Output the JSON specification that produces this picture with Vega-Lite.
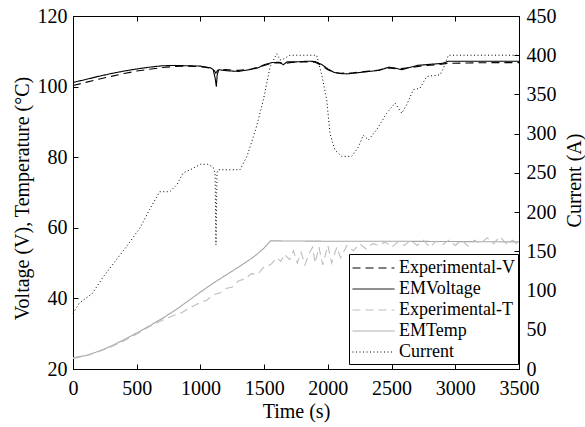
{
  "$schema": "https://vega.github.io/schema/vega-lite/v6.json",
  "width": 446,
  "height": 353,
  "autosize": {"type": "none"},
  "padding": {"left": 73, "top": 16, "right": 66, "bottom": 58},
  "background": "white",
  "config": {
    "font": "Liberation Serif",
    "view": {"stroke": "black", "strokeWidth": 1},
    "axis": {"labelFont": "Liberation Serif", "titleFont": "Liberation Serif", "labelFontSize": 20, "titleFontSize": 20, "titleFontWeight": "normal", "labelColor": "black", "titleColor": "black", "domain": false, "tickColor": "black", "tickSize": -5, "grid": false, "labelPadding": 11, "labelFlush": false, "format": "d"},
    "legend": {"orient": "none", "legendX": 276, "legendY": 238, "title": null, "symbolType": "M-1,0H3", "symbolSize": 441, "symbolStrokeWidth": 1, "labelFont": "Liberation Serif", "labelFontSize": 18, "labelColor": "black", "labelOffset": 25, "fillColor": "white", "strokeColor": "black", "padding": 3, "rowPadding": 1, "labelLimit": 300}
  },
  "datasets": {
    "d": [
      {"s": "EMVoltage", "t": 0, "v": 101.2}, {"s": "EMVoltage", "t": 100, "v": 102.0}, {"s": "EMVoltage", "t": 200, "v": 102.9}, {"s": "EMVoltage", "t": 300, "v": 103.7}, {"s": "EMVoltage", "t": 400, "v": 104.4}, {"s": "EMVoltage", "t": 500, "v": 105.0}, {"s": "EMVoltage", "t": 600, "v": 105.5}, {"s": "EMVoltage", "t": 700, "v": 105.9}, {"s": "EMVoltage", "t": 800, "v": 106.0}, {"s": "EMVoltage", "t": 900, "v": 105.9}, {"s": "EMVoltage", "t": 1000, "v": 105.8}, {"s": "EMVoltage", "t": 1080, "v": 105.3}, {"s": "EMVoltage", "t": 1100, "v": 104.8}, {"s": "EMVoltage", "t": 1115, "v": 102.5}, {"s": "EMVoltage", "t": 1125, "v": 100.0}, {"s": "EMVoltage", "t": 1132, "v": 103.5}, {"s": "EMVoltage", "t": 1145, "v": 104.8}, {"s": "EMVoltage", "t": 1200, "v": 104.5}, {"s": "EMVoltage", "t": 1300, "v": 104.3}, {"s": "EMVoltage", "t": 1400, "v": 104.9}, {"s": "EMVoltage", "t": 1450, "v": 105.3}, {"s": "EMVoltage", "t": 1500, "v": 106.2}, {"s": "EMVoltage", "t": 1560, "v": 106.8}, {"s": "EMVoltage", "t": 1620, "v": 106.9}, {"s": "EMVoltage", "t": 1650, "v": 106.2}, {"s": "EMVoltage", "t": 1680, "v": 107.0}, {"s": "EMVoltage", "t": 1750, "v": 107.0}, {"s": "EMVoltage", "t": 1850, "v": 107.2}, {"s": "EMVoltage", "t": 1900, "v": 107.1}, {"s": "EMVoltage", "t": 1950, "v": 106.3}, {"s": "EMVoltage", "t": 2000, "v": 105.0}, {"s": "EMVoltage", "t": 2050, "v": 104.0}, {"s": "EMVoltage", "t": 2100, "v": 103.7}, {"s": "EMVoltage", "t": 2150, "v": 103.6}, {"s": "EMVoltage", "t": 2200, "v": 103.8}, {"s": "EMVoltage", "t": 2300, "v": 104.2}, {"s": "EMVoltage", "t": 2400, "v": 104.6}, {"s": "EMVoltage", "t": 2480, "v": 105.5}, {"s": "EMVoltage", "t": 2520, "v": 105.3}, {"s": "EMVoltage", "t": 2580, "v": 104.8}, {"s": "EMVoltage", "t": 2650, "v": 105.5}, {"s": "EMVoltage", "t": 2700, "v": 106.0}, {"s": "EMVoltage", "t": 2800, "v": 106.3}, {"s": "EMVoltage", "t": 2900, "v": 106.6}, {"s": "EMVoltage", "t": 2950, "v": 107.2}, {"s": "EMVoltage", "t": 3000, "v": 107.2}, {"s": "EMVoltage", "t": 3200, "v": 107.2}, {"s": "EMVoltage", "t": 3500, "v": 107.2},
      {"s": "Experimental-V", "t": 0, "v": 100.3}, {"s": "Experimental-V", "t": 100, "v": 101.2}, {"s": "Experimental-V", "t": 200, "v": 102.1}, {"s": "Experimental-V", "t": 300, "v": 102.9}, {"s": "Experimental-V", "t": 400, "v": 103.7}, {"s": "Experimental-V", "t": 500, "v": 104.4}, {"s": "Experimental-V", "t": 600, "v": 104.9}, {"s": "Experimental-V", "t": 700, "v": 105.4}, {"s": "Experimental-V", "t": 800, "v": 105.7}, {"s": "Experimental-V", "t": 900, "v": 105.8}, {"s": "Experimental-V", "t": 1000, "v": 105.7}, {"s": "Experimental-V", "t": 1080, "v": 105.2}, {"s": "Experimental-V", "t": 1110, "v": 104.5}, {"s": "Experimental-V", "t": 1120, "v": 103.8}, {"s": "Experimental-V", "t": 1135, "v": 104.6}, {"s": "Experimental-V", "t": 1200, "v": 104.8}, {"s": "Experimental-V", "t": 1300, "v": 104.6}, {"s": "Experimental-V", "t": 1400, "v": 105.0}, {"s": "Experimental-V", "t": 1500, "v": 106.0}, {"s": "Experimental-V", "t": 1560, "v": 106.6}, {"s": "Experimental-V", "t": 1620, "v": 106.8}, {"s": "Experimental-V", "t": 1660, "v": 106.4}, {"s": "Experimental-V", "t": 1700, "v": 106.8}, {"s": "Experimental-V", "t": 1800, "v": 107.0}, {"s": "Experimental-V", "t": 1900, "v": 106.9}, {"s": "Experimental-V", "t": 1950, "v": 106.0}, {"s": "Experimental-V", "t": 2000, "v": 104.8}, {"s": "Experimental-V", "t": 2050, "v": 104.0}, {"s": "Experimental-V", "t": 2100, "v": 103.8}, {"s": "Experimental-V", "t": 2200, "v": 103.9}, {"s": "Experimental-V", "t": 2300, "v": 104.3}, {"s": "Experimental-V", "t": 2400, "v": 104.7}, {"s": "Experimental-V", "t": 2480, "v": 105.3}, {"s": "Experimental-V", "t": 2550, "v": 105.0}, {"s": "Experimental-V", "t": 2650, "v": 105.4}, {"s": "Experimental-V", "t": 2750, "v": 105.9}, {"s": "Experimental-V", "t": 2850, "v": 106.2}, {"s": "Experimental-V", "t": 2950, "v": 106.6}, {"s": "Experimental-V", "t": 3100, "v": 106.7}, {"s": "Experimental-V", "t": 3300, "v": 106.8}, {"s": "Experimental-V", "t": 3500, "v": 106.8},
      {"s": "EMTemp", "t": 0, "v": 23.2}, {"s": "EMTemp", "t": 100, "v": 23.8}, {"s": "EMTemp", "t": 200, "v": 25.0}, {"s": "EMTemp", "t": 300, "v": 26.5}, {"s": "EMTemp", "t": 400, "v": 28.3}, {"s": "EMTemp", "t": 500, "v": 30.2}, {"s": "EMTemp", "t": 600, "v": 32.2}, {"s": "EMTemp", "t": 700, "v": 34.3}, {"s": "EMTemp", "t": 800, "v": 36.6}, {"s": "EMTemp", "t": 900, "v": 39.2}, {"s": "EMTemp", "t": 1000, "v": 41.8}, {"s": "EMTemp", "t": 1100, "v": 44.3}, {"s": "EMTemp", "t": 1200, "v": 46.6}, {"s": "EMTemp", "t": 1300, "v": 48.9}, {"s": "EMTemp", "t": 1400, "v": 51.3}, {"s": "EMTemp", "t": 1450, "v": 52.7}, {"s": "EMTemp", "t": 1500, "v": 54.3}, {"s": "EMTemp", "t": 1550, "v": 56.3}, {"s": "EMTemp", "t": 2000, "v": 56.2}, {"s": "EMTemp", "t": 2500, "v": 56.2}, {"s": "EMTemp", "t": 3000, "v": 56.1}, {"s": "EMTemp", "t": 3500, "v": 56.0},
      {"s": "Experimental-T", "t": 0, "v": 23.0}, {"s": "Experimental-T", "t": 100, "v": 23.7}, {"s": "Experimental-T", "t": 200, "v": 24.9}, {"s": "Experimental-T", "t": 300, "v": 26.3}, {"s": "Experimental-T", "t": 400, "v": 28.0}, {"s": "Experimental-T", "t": 500, "v": 29.9}, {"s": "Experimental-T", "t": 600, "v": 32.0}, {"s": "Experimental-T", "t": 700, "v": 33.8}, {"s": "Experimental-T", "t": 800, "v": 35.3}, {"s": "Experimental-T", "t": 850, "v": 35.9}, {"s": "Experimental-T", "t": 900, "v": 37.0}, {"s": "Experimental-T", "t": 1000, "v": 38.9}, {"s": "Experimental-T", "t": 1050, "v": 39.5}, {"s": "Experimental-T", "t": 1100, "v": 41.0}, {"s": "Experimental-T", "t": 1150, "v": 41.5}, {"s": "Experimental-T", "t": 1200, "v": 42.8}, {"s": "Experimental-T", "t": 1250, "v": 43.2}, {"s": "Experimental-T", "t": 1300, "v": 45.0}, {"s": "Experimental-T", "t": 1350, "v": 45.5}, {"s": "Experimental-T", "t": 1400, "v": 47.0}, {"s": "Experimental-T", "t": 1450, "v": 46.8}, {"s": "Experimental-T", "t": 1500, "v": 49.0}, {"s": "Experimental-T", "t": 1550, "v": 49.5}, {"s": "Experimental-T", "t": 1600, "v": 51.5}, {"s": "Experimental-T", "t": 1630, "v": 50.5}, {"s": "Experimental-T", "t": 1660, "v": 52.5}, {"s": "Experimental-T", "t": 1700, "v": 51.0}, {"s": "Experimental-T", "t": 1730, "v": 53.5}, {"s": "Experimental-T", "t": 1760, "v": 50.0}, {"s": "Experimental-T", "t": 1790, "v": 53.0}, {"s": "Experimental-T", "t": 1820, "v": 49.5}, {"s": "Experimental-T", "t": 1850, "v": 52.5}, {"s": "Experimental-T", "t": 1880, "v": 54.5}, {"s": "Experimental-T", "t": 1900, "v": 50.0}, {"s": "Experimental-T", "t": 1930, "v": 54.5}, {"s": "Experimental-T", "t": 1960, "v": 49.5}, {"s": "Experimental-T", "t": 2000, "v": 55.0}, {"s": "Experimental-T", "t": 2030, "v": 50.0}, {"s": "Experimental-T", "t": 2070, "v": 54.5}, {"s": "Experimental-T", "t": 2100, "v": 51.5}, {"s": "Experimental-T", "t": 2150, "v": 55.0}, {"s": "Experimental-T", "t": 2200, "v": 53.5}, {"s": "Experimental-T", "t": 2250, "v": 55.5}, {"s": "Experimental-T", "t": 2300, "v": 54.0}, {"s": "Experimental-T", "t": 2350, "v": 55.5}, {"s": "Experimental-T", "t": 2400, "v": 55.0}, {"s": "Experimental-T", "t": 2450, "v": 56.0}, {"s": "Experimental-T", "t": 2500, "v": 54.5}, {"s": "Experimental-T", "t": 2550, "v": 56.0}, {"s": "Experimental-T", "t": 2600, "v": 55.0}, {"s": "Experimental-T", "t": 2650, "v": 56.5}, {"s": "Experimental-T", "t": 2700, "v": 55.0}, {"s": "Experimental-T", "t": 2750, "v": 56.5}, {"s": "Experimental-T", "t": 2800, "v": 54.5}, {"s": "Experimental-T", "t": 2850, "v": 56.2}, {"s": "Experimental-T", "t": 2900, "v": 55.2}, {"s": "Experimental-T", "t": 2950, "v": 56.5}, {"s": "Experimental-T", "t": 3000, "v": 55.0}, {"s": "Experimental-T", "t": 3050, "v": 56.5}, {"s": "Experimental-T", "t": 3100, "v": 54.8}, {"s": "Experimental-T", "t": 3150, "v": 56.5}, {"s": "Experimental-T", "t": 3200, "v": 55.5}, {"s": "Experimental-T", "t": 3250, "v": 57.2}, {"s": "Experimental-T", "t": 3300, "v": 55.5}, {"s": "Experimental-T", "t": 3350, "v": 57.5}, {"s": "Experimental-T", "t": 3400, "v": 55.5}, {"s": "Experimental-T", "t": 3450, "v": 56.5}, {"s": "Experimental-T", "t": 3500, "v": 55.0},
      {"s": "Current", "t": 0, "v": 71}, {"s": "Current", "t": 50, "v": 84}, {"s": "Current", "t": 150, "v": 96}, {"s": "Current", "t": 240, "v": 118}, {"s": "Current", "t": 320, "v": 135}, {"s": "Current", "t": 420, "v": 156}, {"s": "Current", "t": 530, "v": 181}, {"s": "Current", "t": 600, "v": 203}, {"s": "Current", "t": 680, "v": 226}, {"s": "Current", "t": 760, "v": 226}, {"s": "Current", "t": 815, "v": 235}, {"s": "Current", "t": 865, "v": 250}, {"s": "Current", "t": 945, "v": 256}, {"s": "Current", "t": 1000, "v": 261}, {"s": "Current", "t": 1060, "v": 261}, {"s": "Current", "t": 1100, "v": 257}, {"s": "Current", "t": 1115, "v": 250}, {"s": "Current", "t": 1122, "v": 158}, {"s": "Current", "t": 1130, "v": 250}, {"s": "Current", "t": 1140, "v": 254}, {"s": "Current", "t": 1310, "v": 254}, {"s": "Current", "t": 1365, "v": 271}, {"s": "Current", "t": 1415, "v": 296}, {"s": "Current", "t": 1440, "v": 309}, {"s": "Current", "t": 1494, "v": 343}, {"s": "Current", "t": 1546, "v": 385}, {"s": "Current", "t": 1599, "v": 402}, {"s": "Current", "t": 1625, "v": 394}, {"s": "Current", "t": 1650, "v": 395}, {"s": "Current", "t": 1703, "v": 400}, {"s": "Current", "t": 1912, "v": 400}, {"s": "Current", "t": 1952, "v": 375}, {"s": "Current", "t": 1991, "v": 343}, {"s": "Current", "t": 2017, "v": 300}, {"s": "Current", "t": 2056, "v": 279}, {"s": "Current", "t": 2109, "v": 271}, {"s": "Current", "t": 2187, "v": 271}, {"s": "Current", "t": 2239, "v": 283}, {"s": "Current", "t": 2278, "v": 298}, {"s": "Current", "t": 2318, "v": 292}, {"s": "Current", "t": 2383, "v": 305}, {"s": "Current", "t": 2462, "v": 326}, {"s": "Current", "t": 2527, "v": 339}, {"s": "Current", "t": 2580, "v": 326}, {"s": "Current", "t": 2619, "v": 337}, {"s": "Current", "t": 2671, "v": 356}, {"s": "Current", "t": 2723, "v": 358}, {"s": "Current", "t": 2776, "v": 373}, {"s": "Current", "t": 2880, "v": 375}, {"s": "Current", "t": 2906, "v": 383}, {"s": "Current", "t": 2946, "v": 400}, {"s": "Current", "t": 3500, "v": 400}
    ]
  },
  "data": {"name": "d"},
  "layer": [
    {
      "transform": [{"filter": "datum.s === 'Current'"}],
      "mark": {"type": "line", "strokeWidth": 1},
      "encoding": {
        "x": {"field": "t", "type": "quantitative", "scale": {"domain": [0, 3500], "nice": false}, "axis": null},
        "y": {"field": "v", "type": "quantitative", "scale": {"domain": [0, 450], "nice": false}, "axis": {"orient": "right", "title": "Current (A)", "values": [0, 50, 100, 150, 200, 250, 300, 350, 400, 450], "labelPadding": 12, "titleAngle": 270, "titleBaseline": "top", "titlePadding": 8, "titleY": 164}},
        "color": {"field": "s", "type": "nominal", "scale": {"domain": ["Experimental-V", "EMVoltage", "Experimental-T", "EMTemp", "Current"], "range": ["#000000", "#000000", "#bdbdbd", "#a6a6a6", "#000000"]}},
        "strokeDash": {"field": "s", "type": "nominal", "scale": {"domain": ["Experimental-V", "EMVoltage", "Experimental-T", "EMTemp", "Current"], "range": [[8, 5], [1, 0], [8, 5], [1, 0], [1, 2.5]]}}
      }
    },
    {
      "transform": [{"filter": "datum.s !== 'Current'"}],
      "mark": {"type": "line", "strokeWidth": 1.1},
      "encoding": {
        "x": {"field": "t", "type": "quantitative", "scale": {"domain": [0, 3500], "nice": false}, "axis": {"orient": "bottom", "title": "Time (s)", "values": [0, 500, 1000, 1500, 2000, 2500, 3000, 3500], "labelPadding": 14, "titlePadding": 3}},
        "y": {"field": "v", "type": "quantitative", "scale": {"domain": [20, 120], "nice": false}, "axis": {"orient": "left", "title": "Voltage (V), Temperature (°C)", "values": [20, 40, 60, 80, 100, 120], "labelPadding": 11, "titlePadding": 5, "titleY": 182}},
        "color": {"field": "s", "type": "nominal", "scale": {"domain": ["Experimental-V", "EMVoltage", "Experimental-T", "EMTemp", "Current"], "range": ["#000000", "#000000", "#bdbdbd", "#a6a6a6", "#000000"]}},
        "strokeDash": {"field": "s", "type": "nominal", "scale": {"domain": ["Experimental-V", "EMVoltage", "Experimental-T", "EMTemp", "Current"], "range": [[8, 5], [1, 0], [8, 5], [1, 0], [1, 2.5]]}}
      }
    },
    {
      "mark": {"type": "line", "opacity": 0},
      "encoding": {
        "x": {"field": "t", "type": "quantitative", "scale": {"domain": [0, 3500], "nice": false}, "axis": {"orient": "top", "title": null, "labels": false, "values": [0, 500, 1000, 1500, 2000, 2500, 3000, 3500]}},
        "y": {"field": "v", "type": "quantitative", "axis": null}
      }
    }
  ],
  "resolve": {"scale": {"y": "independent"}, "axis": {"x": "independent"}}
}
